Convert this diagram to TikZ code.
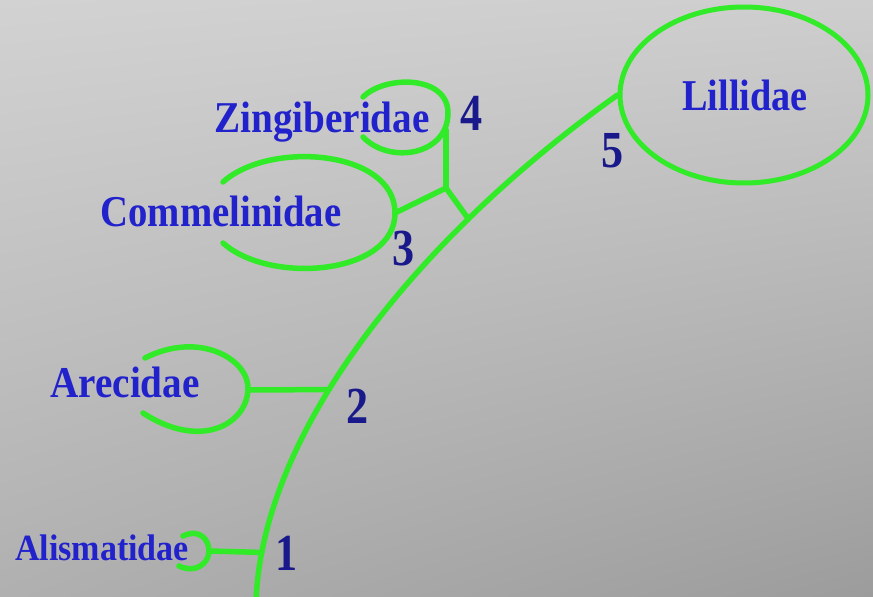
\documentclass[tikz,border=0pt]{standalone}
\usepackage{fontspec}
\setmainfont{Liberation Serif}
\usetikzlibrary{shapes.geometric,shadings}
\definecolor{bgul}{RGB}{210,210,210}
\definecolor{bgur}{RGB}{206,206,206}
\definecolor{bgll}{RGB}{176,176,176}
\definecolor{bglr}{RGB}{156,156,156}
\definecolor{lgreen}{RGB}{50,235,40}
\definecolor{tblue}{RGB}{34,34,204}
\definecolor{nblue}{RGB}{25,25,140}
\begin{document}
\begin{tikzpicture}[x=1pt,y=-1pt,
  branch/.style={draw=lgreen, line width=5.5pt, line cap=round, line join=round},
  taxon/.style={text=tblue, font=\fontsize{44}{44}\selectfont\bfseries, inner sep=0pt, anchor=base},
  smalltaxon/.style={text=tblue, font=\fontsize{37}{37}\selectfont\bfseries, inner sep=0pt, anchor=base},
  num/.style={text=nblue, font=\fontsize{52}{52}\selectfont\bfseries, inner sep=0pt, anchor=base}]
\useasboundingbox (0,0) rectangle (873,597);
\shade[upper left=bgul, upper right=bgur, lower left=bgll, lower right=bglr] (0,0) rectangle (873,597);

% Lillidae ellipse
\node[ellipse, draw=lgreen, line width=5pt, minimum width=248pt, minimum height=176pt, inner sep=0pt] (lill) at (744,95) {};

% main stem
\coordinate (base) at (256,602);
\draw[branch] (base) .. controls (262,430) and (420,235) ..
  coordinate[pos=0.095] (j1) coordinate[pos=0.4] (j2) coordinate[pos=0.73] (j3) (lill.west);

% Alismatidae
\coordinate (alisC) at (209,551);
\draw[branch] (183,536) .. controls (200,528) and (209,540) .. (alisC) .. controls (209,563) and (196,574) .. (179,566);
\draw[branch] (alisC) -- (j1);

% Arecidae
\coordinate (arecC) at (248,390);
\draw[branch] (145,358) .. controls (200,330) and (250,360) .. (arecC) .. controls (246,425) and (200,450) .. (143,413);
\draw[branch] (arecC) -- (j2);

% Commelinidae
\coordinate (commC) at (395,213);
\draw[branch] (223,182) .. controls (270,140) and (395,150) .. (commC) .. controls (395,275) and (270,285) .. (223,243);

% Zingiberidae
\coordinate (zingC) at (446,130);
\draw[branch] (363,97) .. controls (385,75) and (448,75) .. (448,113) .. controls (448,155) and (390,165) .. (363,137);

\coordinate (jc) at (446,188);
\draw[branch] (commC) -- (jc) -- (j3);
\draw[branch] (jc) -- (zingC);

% labels
\node[taxon] (lillt) at (745,110) {\scalebox{0.87}[1]{Lillidae}};
\node[taxon] (zing) at (322,132) {\scalebox{0.89}[1]{Zingiberidae}};
\node[taxon] (comm) at (221,226) {\scalebox{0.88}[1]{Commelinidae}};
\node[taxon] (arec) at (125,397) {\scalebox{0.89}[1]{Arecidae}};
\node[smalltaxon] (alis) at (102,560) {\scalebox{0.92}[1]{Alismatidae}};

\node[num] (n1) at (287,570) {\scalebox{0.85}[1]{1}};
\node[num] (n2) at (358,423) {\scalebox{0.85}[1]{2}};
\node[num] (n3) at (404,265) {\scalebox{0.85}[1]{3}};
\node[num] (n4) at (472,130) {\scalebox{0.85}[1]{4}};
\node[num] (n5) at (613,167) {\scalebox{0.85}[1]{5}};
\end{tikzpicture}
\end{document}
